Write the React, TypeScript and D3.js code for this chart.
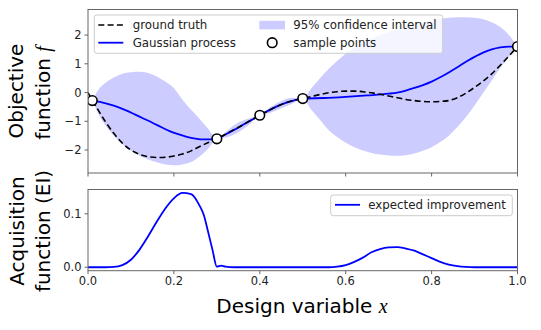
import React from "react";
import * as d3 from "d3";

// ---------- data ----------
const gtX = [0, 0.02, 0.04, 0.06, 0.08, 0.1, 0.12, 0.14, 0.16, 0.18, 0.2, 0.22, 0.24, 0.26, 0.28, 0.3, 0.32, 0.34, 0.36, 0.38, 0.4, 0.42, 0.44, 0.46, 0.48, 0.5, 0.52, 0.54, 0.56, 0.58, 0.6, 0.62, 0.64, 0.66, 0.68, 0.7, 0.72, 0.74, 0.76, 0.78, 0.8, 0.82, 0.84, 0.86, 0.88, 0.9, 0.92, 0.94, 0.96, 0.98, 1.0];
const gtY = [0.0, -0.52, -1.0, -1.42, -1.76, -2.0, -2.15, -2.23, -2.26, -2.25, -2.21, -2.14, -2.03, -1.88, -1.74, -1.61, -1.45, -1.29, -1.13, -0.96, -0.79, -0.63, -0.48, -0.36, -0.27, -0.21, -0.14, -0.07, -0.01, 0.03, 0.05, 0.05, 0.03, -0.01, -0.06, -0.12, -0.18, -0.24, -0.28, -0.31, -0.32, -0.31, -0.28, -0.18, -0.02, 0.18, 0.4, 0.65, 0.95, 1.27, 1.6];

const gpX = [0, 0.01, 0.03, 0.05, 0.07, 0.09, 0.11, 0.13, 0.15, 0.17, 0.19, 0.21, 0.23, 0.25, 0.27, 0.29, 0.3, 0.32, 0.34, 0.36, 0.38, 0.4, 0.42, 0.44, 0.46, 0.48, 0.5, 0.55, 0.6, 0.65, 0.7, 0.72, 0.74, 0.76, 0.78, 0.8, 0.82, 0.84, 0.86, 0.88, 0.9, 0.92, 0.94, 0.96, 0.98, 1.0];
const gpY = [-0.27, -0.28, -0.33, -0.41, -0.51, -0.63, -0.77, -0.91, -1.05, -1.2, -1.34, -1.45, -1.54, -1.6, -1.63, -1.63, -1.61, -1.46, -1.3, -1.13, -0.96, -0.79, -0.63, -0.48, -0.36, -0.27, -0.21, -0.19, -0.15, -0.1, -0.04, 0.0, 0.07, 0.16, 0.26, 0.38, 0.53, 0.7, 0.88, 1.07, 1.24, 1.39, 1.5, 1.57, 1.6, 1.6];

const ciX = [0, 0.01, 0.02, 0.03, 0.04, 0.06, 0.08, 0.1, 0.12, 0.14, 0.16, 0.18, 0.2, 0.22, 0.24, 0.26, 0.28, 0.3, 0.325, 0.35, 0.375, 0.4, 0.425, 0.45, 0.475, 0.5, 0.52, 0.54, 0.56, 0.58, 0.6, 0.62, 0.64, 0.66, 0.68, 0.7, 0.72, 0.74, 0.76, 0.78, 0.8, 0.82, 0.84, 0.86, 0.88, 0.9, 0.92, 0.94, 0.96, 0.98, 1.0];
const ciUpper = [-0.22, -0.28, 0.0, 0.2, 0.33, 0.52, 0.65, 0.71, 0.72, 0.68, 0.56, 0.38, 0.15, -0.25, -0.6, -0.92, -1.27, -1.61, -1.31, -1.04, -0.9, -0.79, -0.5, -0.29, -0.18, -0.21, 0.15, 0.5, 0.82, 1.1, 1.35, 1.55, 1.72, 1.87, 2.0, 2.11, 2.2, 2.3, 2.38, 2.45, 2.51, 2.56, 2.6, 2.62, 2.62, 2.6, 2.55, 2.45, 2.28, 2.0, 1.6];
const ciLower = [-0.33, -0.28, -0.62, -0.9, -1.13, -1.5, -1.8, -2.02, -2.2, -2.33, -2.43, -2.5, -2.53, -2.5, -2.42, -2.23, -1.95, -1.61, -1.55, -1.38, -1.12, -0.79, -0.7, -0.55, -0.39, -0.21, -0.6, -0.95, -1.3, -1.55, -1.75, -1.9, -2.02, -2.1, -2.16, -2.19, -2.2, -2.18, -2.12, -2.03, -1.9, -1.72, -1.5, -1.2, -0.85, -0.45, -0.02, 0.42, 0.85, 1.25, 1.6];

const sampleX = [0.01, 0.3, 0.4, 0.5, 1.0];
const sampleY = [-0.28, -1.61, -0.79, -0.21, 1.6];

const eiX = [0, 0.04, 0.06, 0.08, 0.1, 0.12, 0.14, 0.16, 0.18, 0.2, 0.22, 0.24, 0.26, 0.27, 0.28, 0.29, 0.3, 0.31, 0.32, 0.34, 0.4, 0.5, 0.56, 0.58, 0.6, 0.62, 0.64, 0.66, 0.68, 0.7, 0.72, 0.74, 0.76, 0.78, 0.8, 0.82, 0.84, 0.86, 0.88, 0.9, 1.0];
const eiY = [0, 0, 0.0005, 0.004, 0.014, 0.033, 0.058, 0.085, 0.11, 0.129, 0.139, 0.137, 0.115, 0.097, 0.065, 0.032, 0.001, 0.003, 0.001, 0, 0, 0, 0, 0.001, 0.004, 0.01, 0.018, 0.028, 0.034, 0.037, 0.0375, 0.035, 0.031, 0.024, 0.017, 0.01, 0.005, 0.002, 0.0005, 0, 0];

const xTicks = [0, 0.2, 0.4, 0.6, 0.8, 1.0];
const xTickLabels = ["0.0", "0.2", "0.4", "0.6", "0.8", "1.0"];
const topYTicks = [-2, -1, 0, 1, 2];
const topYTickLabels = ["−2", "−1", "0", "1", "2"];
const botYTicks = [0, 0.1];
const botYTickLabels = ["0.0", "0.1"];

const legendTop = ["ground truth", "Gaussian process", "95% confidence interval", "sample points"];
const legendBottom = ["expected improvement"];

// ---------- layout ----------
const W = 541;
const H = 330;
const L = 88;
const R = 517.5;
const topT = 9.5;
const topB = 173;
const botT = 189.5;
const botB = 270.7;

const FONT = "'DejaVu Sans', sans-serif";
const TICK_FS = 11.5;
const LEG_FS = 11.8;
const LABEL_FS = 20;
const SPINE = "#666";
const BLUE = "#0000ff";

export default function App() {
  const x = d3.scaleLinear().domain([0, 1]).range([L, R]);
  const yTop = d3.scaleLinear().domain([-2.8, 2.89]).range([topB, topT]);
  const yBot = d3.scaleLinear().domain([-0.0065, 0.1455]).range([botB, botT]);

  const band = d3
    .area<number>()
    .x((_, i) => x(ciX[i]))
    .y0((_, i) => yTop(ciLower[i]))
    .y1((_, i) => yTop(ciUpper[i]))
    .curve(d3.curveMonotoneX)(ciX);

  const gtPath = d3
    .line<number>()
    .x((_, i) => x(gtX[i]))
    .y((_, i) => yTop(gtY[i]))
    .curve(d3.curveMonotoneX)(gtX);

  const gpPath = d3
    .line<number>()
    .x((_, i) => x(gpX[i]))
    .y((_, i) => yTop(gpY[i]))
    .curve(d3.curveMonotoneX)(gpX);

  const eiPath = d3
    .line<number>()
    .x((_, i) => x(eiX[i]))
    .y((_, i) => yBot(eiY[i]))
    .curve(d3.curveMonotoneX)(eiX);

  return (
    <svg
      width={W}
      height={H}
      viewBox={`0 0 ${W} ${H}`}
      style={{ position: "absolute", left: 0, top: 0, background: "#fff" }}
      fontFamily={FONT}
    >
      <defs>
        <clipPath id="clipTop">
          <rect x={L} y={topT} width={R - L} height={topB - topT} />
        </clipPath>
        <clipPath id="clipBot">
          <rect x={L} y={botT} width={R - L} height={botB - botT} />
        </clipPath>
      </defs>

      {/* ---------- top axes ---------- */}
      <g clipPath="url(#clipTop)">
        <path d={band || ""} fill={BLUE} fillOpacity={0.2} stroke="none" />
        <path d={gpPath || ""} fill="none" stroke={BLUE} strokeWidth={1.8} />
        <path d={gtPath || ""} fill="none" stroke="#000" strokeWidth={1.6} strokeDasharray="6,3.3" />
        {sampleX.map((v, i) => (
          <circle key={i} cx={x(v)} cy={yTop(sampleY[i])} r={4.8} fill="#fff" stroke="#000" strokeWidth={1.6} />
        ))}
      </g>
      <rect x={L} y={topT} width={R - L} height={topB - topT} fill="none" stroke={SPINE} strokeWidth={1} />
      {xTicks.map((t, i) => (
        <line key={"tx" + i} x1={x(t)} x2={x(t)} y1={topB} y2={topB + 3.5} stroke={SPINE} strokeWidth={1} />
      ))}
      {topYTicks.map((t, i) => (
        <g key={"ty" + i}>
          <line x1={L - 3.5} x2={L} y1={yTop(t)} y2={yTop(t)} stroke={SPINE} strokeWidth={1} />
          <text x={L - 6.5} y={yTop(t)} dy="0.36em" textAnchor="end" fontSize={TICK_FS} fill="#222">
            {topYTickLabels[i]}
          </text>
        </g>
      ))}

      {/* top legend */}
      <g>
        <rect x={94.3} y={15} width={348.4} height={38.3} rx={2.5} fill="#fff" fillOpacity={0.8} stroke="#ccc" strokeWidth={1} />
        <line x1={98.3} x2={123.3} y1={25} y2={25} stroke="#000" strokeWidth={1.6} strokeDasharray="6,3.3" />
        <text x={132.7} y={25} dy="0.36em" fontSize={LEG_FS} fill="#222">{legendTop[0]}</text>
        <line x1={98.3} x2={123.3} y1={42.7} y2={42.7} stroke={BLUE} strokeWidth={1.8} />
        <text x={132.7} y={42.7} dy="0.36em" fontSize={LEG_FS} fill="#222">{legendTop[1]}</text>
        <rect x={259.3} y={20.8} width={25.7} height={8.6} fill={BLUE} fillOpacity={0.2} />
        <text x={293.3} y={25} dy="0.36em" fontSize={LEG_FS} fill="#222">{legendTop[2]}</text>
        <circle cx={272.2} cy={42.7} r={4.8} fill="#fff" stroke="#000" strokeWidth={1.6} />
        <text x={293.3} y={42.7} dy="0.36em" fontSize={LEG_FS} fill="#222">{legendTop[3]}</text>
      </g>

      {/* ---------- bottom axes ---------- */}
      <g clipPath="url(#clipBot)">
        <path d={eiPath || ""} fill="none" stroke={BLUE} strokeWidth={1.8} />
      </g>
      <rect x={L} y={botT} width={R - L} height={botB - botT} fill="none" stroke={SPINE} strokeWidth={1} />
      {xTicks.map((t, i) => (
        <g key={"bx" + i}>
          <line x1={x(t)} x2={x(t)} y1={botB} y2={botB + 3.5} stroke={SPINE} strokeWidth={1} />
          <text x={x(t)} y={285} textAnchor="middle" fontSize={TICK_FS} fill="#222">
            {xTickLabels[i]}
          </text>
        </g>
      ))}
      {botYTicks.map((t, i) => (
        <g key={"by" + i}>
          <line x1={L - 3.5} x2={L} y1={yBot(t)} y2={yBot(t)} stroke={SPINE} strokeWidth={1} />
          <text x={L - 6.5} y={yBot(t)} dy="0.36em" textAnchor="end" fontSize={TICK_FS} fill="#222">
            {botYTickLabels[i]}
          </text>
        </g>
      ))}

      {/* bottom legend */}
      <g>
        <rect x={330.7} y={195} width={181.6} height={20.7} rx={2.5} fill="#fff" fillOpacity={0.8} stroke="#ccc" strokeWidth={1} />
        <line x1={335} x2={360} y1={204.8} y2={204.8} stroke={BLUE} strokeWidth={1.8} />
        <text x={368.3} y={204.8} dy="0.36em" fontSize={LEG_FS} fill="#222">{legendBottom[0]}</text>
      </g>

      {/* ---------- axis labels ---------- */}
      <text transform={`translate(23,91) rotate(-90)`} textAnchor="middle" fontSize={LABEL_FS} fill="#000">
        Objective
      </text>
      <text transform={`translate(49.5,93) rotate(-90)`} textAnchor="middle" fontSize={LABEL_FS} fill="#000">
        function{" "}
        <tspan fontFamily="'Liberation Serif', serif" fontStyle="italic">f</tspan>
      </text>
      <text transform={`translate(23.5,231) rotate(-90)`} textAnchor="middle" fontSize={LABEL_FS} fill="#000">
        Acquisition
      </text>
      <text transform={`translate(49.5,231) rotate(-90)`} textAnchor="middle" fontSize={LABEL_FS} fill="#000">
        function (EI)
      </text>
      <text x={302} y={313} textAnchor="middle" fontSize={LABEL_FS} fill="#000">
        Design variable{" "}
        <tspan fontFamily="'Liberation Serif', serif" fontStyle="italic">x</tspan>
      </text>
    </svg>
  );
}
